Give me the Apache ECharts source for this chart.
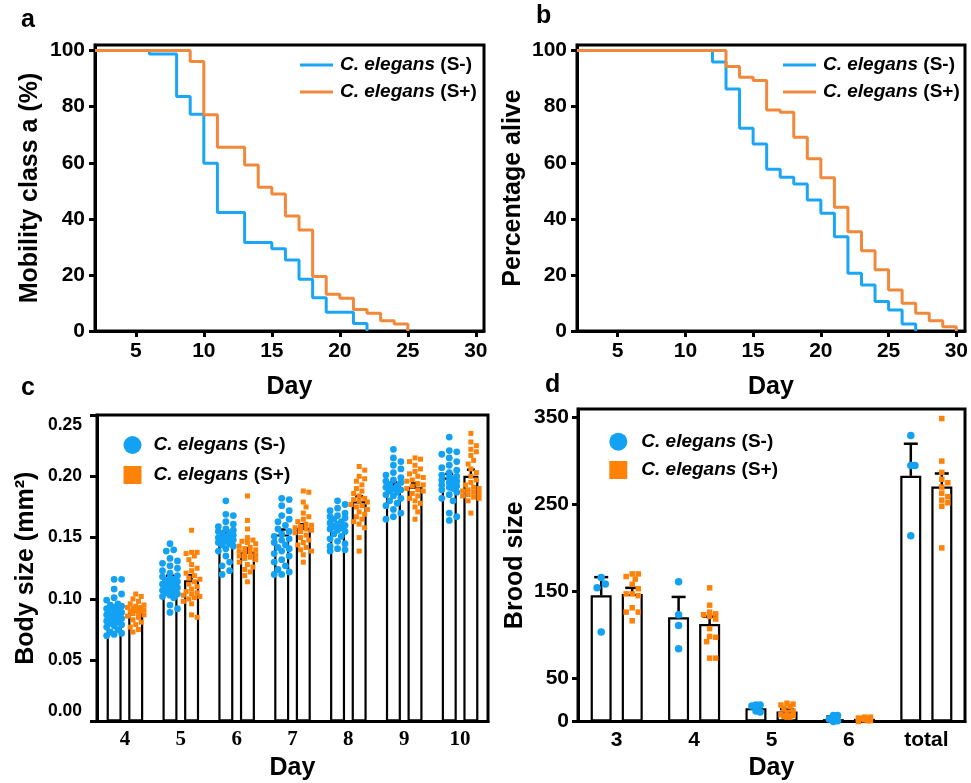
<!DOCTYPE html>
<html>
<head>
<meta charset="utf-8">
<script src="https://cdn.jsdelivr.net/npm/echarts@6/dist/echarts.min.js"></script>
<style>html,body{margin:0;padding:0;background:#fff}#main{width:971px;height:783px}</style>
</head>
<body>
<div id="main"></div>
<script>
// ---------- Panel a: mobility class a (%) ----------
const aDaysMinus = [2, 6, 8, 9, 10, 11, 13, 15, 16, 17, 18, 19, 21, 22];
const aValsMinus = [100, 98.8, 83.6, 77.3, 59.8, 42.3, 31.6, 29.3, 25.3, 18.5, 11.9, 6.7, 2.7, 0];
const aDaysPlus = [2, 9, 10, 11, 13, 14, 15, 16, 17, 18, 19, 20, 21, 22, 23, 24, 25];
const aValsPlus = [100, 96.1, 77.1, 65.5, 59.2, 51.3, 48.9, 41.0, 36.0, 19.4, 13.1, 11.7, 7.7, 6.3, 3.7, 2.5, 0];

// ---------- Panel b: percentage alive ----------
const bDaysMinus = [2, 12, 13, 14, 15, 16, 17, 18, 19, 20, 21, 22, 23, 24, 25, 26, 27];
const bValsMinus = [100, 95.9, 86.3, 72.3, 66.7, 57.7, 54.8, 52.4, 46.7, 42.0, 33.6, 20.6, 16.4, 10.5, 7.5, 2.5, 0];
const bDaysPlus = [2, 13, 14, 15, 16, 17, 18, 19, 20, 21, 22, 23, 24, 25, 26, 27, 28, 29, 30];
const bValsPlus = [100, 94.3, 90.5, 89.3, 78.8, 78.0, 69.1, 61.4, 54.7, 44.1, 35.4, 28.6, 21.8, 14.6, 9.9, 6.3, 3.7, 1.5, 0];

const abXTicks = [5, 10, 15, 20, 25, 30];
const abYTicks = [0, 20, 40, 60, 80, 100];

// ---------- Panel c: body size (mm2) ----------
const cDays = ['4', '5', '6', '7', '8', '9', '10'];
const cMeanMinus = [0.0881, 0.1159, 0.1520, 0.1526, 0.1588, 0.1920, 0.1990];
const cMeanPlus  = [0.0908, 0.1153, 0.1384, 0.1580, 0.1797, 0.1915, 0.2004];
const cErrMinus  = [0.002, 0.003, 0.003, 0.004, 0.002, 0.003, 0.003];
const cErrPlus   = [0.002, 0.004, 0.003, 0.003, 0.004, 0.003, 0.005];
const cPtsMinus = [
  [0.116,0.116,0.108,0.104,0.101,0.099,0.096,0.095,0.094,0.093,0.092,0.091,0.090,0.089,0.088,0.087,0.086,0.085,0.084,0.083,0.082,0.081,0.080,0.079,0.078,0.077,0.075,0.073,0.072,0.071,0.070],
  [0.145,0.140,0.139,0.133,0.131,0.129,0.127,0.125,0.123,0.121,0.119,0.118,0.117,0.116,0.115,0.114,0.113,0.112,0.111,0.110,0.109,0.108,0.107,0.106,0.105,0.104,0.103,0.102,0.101,0.095,0.092,0.089],
  [0.180,0.169,0.168,0.163,0.161,0.159,0.157,0.156,0.155,0.154,0.153,0.152,0.151,0.150,0.150,0.149,0.148,0.147,0.146,0.145,0.144,0.143,0.141,0.139,0.135,0.130,0.127,0.123,0.120],
  [0.182,0.181,0.176,0.172,0.168,0.165,0.163,0.160,0.157,0.155,0.153,0.151,0.149,0.148,0.146,0.144,0.142,0.141,0.139,0.137,0.135,0.132,0.130,0.127,0.124,0.122,0.120,0.120],
  [0.180,0.177,0.174,0.172,0.170,0.168,0.167,0.166,0.165,0.163,0.162,0.161,0.160,0.159,0.158,0.157,0.156,0.155,0.153,0.151,0.149,0.147,0.145,0.143,0.141,0.140,0.139],
  [0.222,0.215,0.212,0.209,0.206,0.203,0.201,0.199,0.197,0.196,0.195,0.193,0.192,0.191,0.190,0.189,0.188,0.187,0.185,0.184,0.182,0.180,0.178,0.176,0.173,0.170,0.167,0.165],
  [0.232,0.221,0.220,0.218,0.215,0.212,0.209,0.207,0.205,0.203,0.201,0.200,0.199,0.198,0.197,0.196,0.195,0.194,0.193,0.192,0.191,0.190,0.189,0.187,0.185,0.182,0.180,0.170,0.167,0.164]
];
const cPtsPlus = [
  [0.104,0.102,0.100,0.098,0.096,0.095,0.094,0.093,0.093,0.092,0.092,0.091,0.091,0.090,0.090,0.089,0.088,0.087,0.086,0.085,0.083,0.081,0.079,0.077,0.075,0.073],
  [0.156,0.138,0.138,0.137,0.135,0.132,0.128,0.125,0.123,0.121,0.119,0.117,0.116,0.114,0.112,0.110,0.108,0.106,0.105,0.104,0.103,0.102,0.101,0.100,0.098,0.096,0.087,0.085],
  [0.184,0.164,0.157,0.150,0.148,0.147,0.146,0.145,0.143,0.142,0.141,0.140,0.139,0.138,0.137,0.136,0.135,0.134,0.133,0.132,0.130,0.128,0.126,0.124,0.122,0.119,0.114],
  [0.188,0.187,0.179,0.175,0.170,0.167,0.165,0.163,0.161,0.160,0.159,0.158,0.157,0.156,0.155,0.154,0.152,0.150,0.148,0.146,0.144,0.142,0.140,0.139,0.136,0.130],
  [0.208,0.205,0.200,0.198,0.196,0.193,0.190,0.188,0.186,0.184,0.182,0.181,0.180,0.179,0.177,0.176,0.175,0.173,0.171,0.169,0.167,0.165,0.163,0.161,0.158,0.150,0.139],
  [0.215,0.214,0.212,0.209,0.206,0.204,0.202,0.200,0.199,0.197,0.196,0.194,0.193,0.192,0.190,0.189,0.188,0.186,0.184,0.182,0.180,0.178,0.175,0.171,0.165],
  [0.235,0.228,0.225,0.222,0.220,0.217,0.213,0.210,0.206,0.203,0.200,0.197,0.195,0.193,0.191,0.190,0.189,0.188,0.187,0.186,0.185,0.184,0.183,0.182,0.180,0.170]
];
const cYTicks = [0, 0.05, 0.10, 0.15, 0.20, 0.25];

// ---------- Panel d: brood size ----------
const dDays = ['3', '4', '5', '6', 'total'];
const dMeanMinus = [145.3, 120.0, 15.4, 2.7, 283.0];
const dMeanPlus  = [147.0, 112.3, 11.5, 3.0, 270.7];
const dErrMinus  = [21, 23.5, 1.5, 3.1, 37];
const dErrPlus   = [7, 8.5, 2.8, 1.5, 15];
const dPtsMinus = [
  [166, 158.5, 154, 103],
  [161, 123, 110.7, 83.8],
  [19, 19, 18, 12, 11],
  [7, 7, 3, 1, 0],
  [329.5, 295, 295, 214]
];
const dPtsPlus = [
  [170, 170, 167, 164, 158, 153, 147, 147, 145, 131, 126, 126, 116],
  [154, 134, 126, 124, 123, 121, 118, 107, 98, 97, 92, 73, 73],
  [21, 20, 19, 17, 15, 12, 10, 8, 7, 6, 5, 5],
  [5, 5, 4, 4, 3, 2, 1, 1, 0],
  [349, 300, 287, 279, 275, 270, 263, 259, 255, 252, 248, 200]
];
const dYTicks = [0, 50, 150, 250, 350];

// ---------- styling ----------
const F = '"Liberation Sans",Arial,sans-serif';
const SERIF = '"Liberation Serif","Times New Roman",serif';
const BLUE_L = '#1ba6f5', ORANGE_L = '#f2883a';
const BLUE_P = '#13a1f3', ORANGE_P = '#ff8208';
const NAME_M = 'C. elegans (S-)', NAME_P = 'C. elegans (S+)';

function zip(xs, ys) { return xs.map((x, i) => [x, ys[i]]); }

function swarm(ys, d, maxOff) {
  const order = ys.map((_, i) => i).sort((a, b) => ys[a] - ys[b]);
  const placed = [], offs = new Array(ys.length);
  const step = d * 0.55;
  const cands = [0];
  for (let k = 1; k * step <= maxOff + 0.01; k++) cands.push(k * step, -k * step);
  order.forEach(i => {
    let best = 0, bestD = -1;
    for (const c of cands) {
      let md = Infinity;
      for (const p of placed) { const dd = Math.hypot(p[0] - c, p[1] - ys[i]); if (dd < md) md = dd; }
      if (md >= d) { best = c; break; }
      if (md > bestD) { bestD = md; best = c; }
    }
    offs[i] = best; placed.push([best, ys[i]]);
  });
  return offs;
}

function pointSeries(name, ai, groups, offPx, shape, size, color, spread) {
  return {
    type: 'custom', name, xAxisIndex: ai, yAxisIndex: ai, z: 6,
    data: groups.map((g, i) => [i, Math.max.apply(null, g)]),
    renderItem(params, api) {
      const i = api.value(0);
      const pts = groups[i];
      const cx = api.coord([i, 0])[0] + offPx;
      const ys = pts.map(v => api.coord([i, v])[1]);
      const offs = swarm(ys, size, spread);
      return {
        type: 'group',
        children: ys.map((y, k) => shape === 'circle'
          ? { type: 'circle', shape: { cx: cx + offs[k], cy: y, r: size / 2 }, style: { fill: color } }
          : { type: 'rect', shape: { x: cx + offs[k] - size / 2, y: y - size / 2, width: size, height: size }, style: { fill: color } })
      };
    }
  };
}

function errSeries(ai, means, errs, offPx, cap) {
  return {
    type: 'custom', xAxisIndex: ai, yAxisIndex: ai, z: 5, silent: true,
    data: means.map((m, i) => [i, m + errs[i], m]),
    renderItem(params, api) {
      const i = api.value(0);
      const top = api.coord([i, api.value(1)]);
      const base = api.coord([i, api.value(2)]);
      const x = top[0] + offPx;
      const st = { stroke: '#000', lineWidth: 2.5 };
      return { type: 'group', children: [
        { type: 'line', shape: { x1: x, y1: base[1], x2: x, y2: top[1] }, style: st },
        { type: 'line', shape: { x1: x - cap / 2, y1: top[1], x2: x + cap / 2, y2: top[1] }, style: st }
      ]};
    }
  };
}

function barSeries(name, ai, data, w, gap) {
  return {
    type: 'bar', name, xAxisIndex: ai, yAxisIndex: ai, data, barWidth: w, barGap: gap, z: 2,
    itemStyle: { color: '#fff', borderColor: '#000', borderWidth: 2.2 },
    silent: true
  };
}

const axisLineStyle = { show: true, lineStyle: { color: '#000', width: 3 } };
const tickStyle = (vals) => ({ show: true, inside: false, length: 6, lineStyle: { color: '#000', width: 3 }, customValues: vals });
const nameStyle = { fontFamily: F, fontWeight: 'bold', fontSize: 25, color: '#000' };
const labelBase = { fontFamily: F, fontWeight: 'bold', color: '#000' };

const legendRich = {
  i: { fontFamily: F, fontWeight: 'bold', fontStyle: 'italic', fontSize: 19, color: '#000' },
  n: { fontFamily: F, fontWeight: 'bold', fontSize: 19, color: '#000' }
};
const legendFmt = n => '{i|C. elegans}{n| ' + n.slice(11) + '}';

function lineLegend(left, top) {
  return {
    left, top, padding: 0, orient: 'vertical', itemWidth: 33, itemHeight: 3, itemGap: 3,
    selectedMode: false,
    data: [
      { name: NAME_M, icon: 'rect', itemStyle: { color: BLUE_L } },
      { name: NAME_P, icon: 'rect', itemStyle: { color: ORANGE_L } }
    ],
    formatter: legendFmt,
    textStyle: { lineHeight: 24, padding: [0, 0, 0, 2], rich: legendRich }
  };
}
function dotLegend(left, top, gap, pad) {
  return {
    left, top, padding: 0, orient: 'vertical', itemWidth: 18, itemHeight: 18, itemGap: gap,
    selectedMode: false,
    data: [
      { name: NAME_M, icon: 'circle', itemStyle: { color: BLUE_P } },
      { name: NAME_P, icon: 'rect', itemStyle: { color: ORANGE_P } }
    ],
    formatter: legendFmt,
    textStyle: { lineHeight: 24, padding: [0, 0, 0, pad], rich: legendRich }
  };
}

const grids = [
  { left: 95, top: 45, width: 389, height: 286 },
  { left: 577, top: 45, width: 390, height: 286 },
  { left: 97, top: 415, width: 391, height: 306.5 },
  { left: 578, top: 409, width: 387, height: 312.5 }
].map(g => Object.assign(g, { show: true, borderColor: '#000', borderWidth: 3, backgroundColor: 'transparent' }));

function abX(ai, max) {
  return {
    type: 'value', gridIndex: ai, min: 2, max,
    name: 'Day', nameLocation: 'middle', nameGap: 44, nameTextStyle: nameStyle,
    axisLine: axisLineStyle, axisTick: tickStyle(abXTicks), splitLine: { show: false },
    axisLabel: Object.assign({ customValues: abXTicks, fontSize: 21, margin: 10 }, labelBase)
  };
}
function abY(ai, name, gap) {
  return {
    type: 'value', gridIndex: ai, min: 0, max: 102,
    name, nameLocation: 'middle', nameGap: gap, nameTextStyle: nameStyle,
    axisLine: axisLineStyle, axisTick: tickStyle(abYTicks), splitLine: { show: false },
    axisLabel: Object.assign({ customValues: abYTicks, fontSize: 21, margin: 10 }, labelBase)
  };
}

const cRich = {
  lo: { fontFamily: F, fontWeight: 'bold', fontSize: 17.5, color: '#000', padding: [0, 0, 20, 0] },
  hi: { fontFamily: F, fontWeight: 'bold', fontSize: 17.5, color: '#000', padding: [20, 0, 0, 0] },
  n: { fontFamily: F, fontWeight: 'bold', fontSize: 17.5, color: '#000' }
};

const option = {
  animation: false,
  backgroundColor: '#fff',
  grid: grids,
  legend: [lineLegend(300, 53), lineLegend(783, 53), dotLegend(123.5, 433, 6, 7), dotLegend(609.3, 429.7, 4.3, 9)],
  graphic: [
    { type: 'text', left: 21, top: 8, style: { text: 'a', font: 'bold 25px ' + F, fill: '#000' } },
    { type: 'text', left: 536, top: 4, style: { text: 'b', font: 'bold 25px ' + F, fill: '#000' } },
    { type: 'text', left: 21, top: 376, style: { text: 'c', font: 'bold 25px ' + F, fill: '#000' } },
    { type: 'text', left: 545, top: 373, style: { text: 'd', font: 'bold 25px ' + F, fill: '#000' } }
  ],
  xAxis: [
    abX(0, 30.6),
    abX(1, 30.64),
    {
      type: 'category', gridIndex: 2, data: cDays,
      name: 'Day', nameLocation: 'middle', nameGap: 34, nameTextStyle: nameStyle,
      axisLine: axisLineStyle, axisTick: { show: false },
      axisLabel: { fontFamily: SERIF, fontWeight: 'bold', fontSize: 21, color: '#000', margin: 8 }
    },
    {
      type: 'category', gridIndex: 3, data: dDays,
      name: 'Day', nameLocation: 'middle', nameGap: 34, nameTextStyle: nameStyle,
      axisLine: axisLineStyle, axisTick: { show: false },
      axisLabel: Object.assign({ fontSize: 21, margin: 8 }, labelBase)
    }
  ],
  yAxis: [
    abY(0, 'Mobility class a (%)', 52),
    abY(1, 'Percentage alive', 51),
    {
      type: 'value', gridIndex: 2, min: 0, max: 0.25,
      name: 'Body size (mm²)', nameLocation: 'middle', nameGap: 58, nameTextStyle: nameStyle,
      axisLine: axisLineStyle, axisTick: Object.assign(tickStyle(cYTicks), { length: 7 }), splitLine: { show: false },
      axisLabel: {
        customValues: cYTicks, margin: 15, rich: cRich,
        formatter: v => v === 0 ? '{lo|0.00}' : (v >= 0.249 ? '{hi|0.25}' : '{n|' + v.toFixed(2) + '}')
      }
    },
    {
      type: 'value', gridIndex: 3, min: 0, max: 360,
      name: 'Brood size', nameLocation: 'middle', nameGap: 50, nameTextStyle: nameStyle,
      axisLine: axisLineStyle, axisTick: tickStyle(dYTicks), splitLine: { show: false },
      axisLabel: Object.assign({ customValues: dYTicks, fontSize: 21, margin: 9 }, labelBase)
    }
  ],
  series: [
    { type: 'line', name: NAME_M, xAxisIndex: 0, yAxisIndex: 0, step: 'end', symbol: 'none', data: zip(aDaysMinus, aValsMinus), lineStyle: { color: BLUE_L, width: 3 }, itemStyle: { color: BLUE_L }, z: 3 },
    { type: 'line', name: NAME_P, xAxisIndex: 0, yAxisIndex: 0, step: 'end', symbol: 'none', data: zip(aDaysPlus, aValsPlus), lineStyle: { color: ORANGE_L, width: 3 }, itemStyle: { color: ORANGE_L }, z: 4 },
    { type: 'line', name: NAME_M, xAxisIndex: 1, yAxisIndex: 1, step: 'end', symbol: 'none', data: zip(bDaysMinus, bValsMinus), lineStyle: { color: BLUE_L, width: 3 }, itemStyle: { color: BLUE_L }, z: 3 },
    { type: 'line', name: NAME_P, xAxisIndex: 1, yAxisIndex: 1, step: 'end', symbol: 'none', data: zip(bDaysPlus, bValsPlus), lineStyle: { color: ORANGE_L, width: 3 }, itemStyle: { color: ORANGE_L }, z: 4 },

    barSeries(NAME_M, 2, cMeanMinus, 15, '44%'),
    barSeries(NAME_P, 2, cMeanPlus, 15, '44%'),
    pointSeries(NAME_M, 2, cPtsMinus, -10.8, 'circle', 6.8, BLUE_P, 10),
    pointSeries(NAME_P, 2, cPtsPlus, 10.8, 'rect', 5, ORANGE_P, 9),
    errSeries(2, cMeanMinus, cErrMinus, -10.8, 8),
    errSeries(2, cMeanPlus, cErrPlus, 10.8, 8),

    barSeries(NAME_M, 3, dMeanMinus, 21, '48%'),
    barSeries(NAME_P, 3, dMeanPlus, 21, '48%'),
    errSeries(3, dMeanMinus, dErrMinus, -15.5, 14),
    errSeries(3, dMeanPlus, dErrPlus, 15.5, 14),
    pointSeries(NAME_M, 3, dPtsMinus, -15.5, 'circle', 7.5, BLUE_P, 8),
    pointSeries(NAME_P, 3, dPtsPlus, 15.5, 'rect', 5.5, ORANGE_P, 8)
  ]
};

const chart = echarts.init(document.getElementById('main'), null, { renderer: 'canvas' });
chart.setOption(option);
</script>
</body>
</html>
